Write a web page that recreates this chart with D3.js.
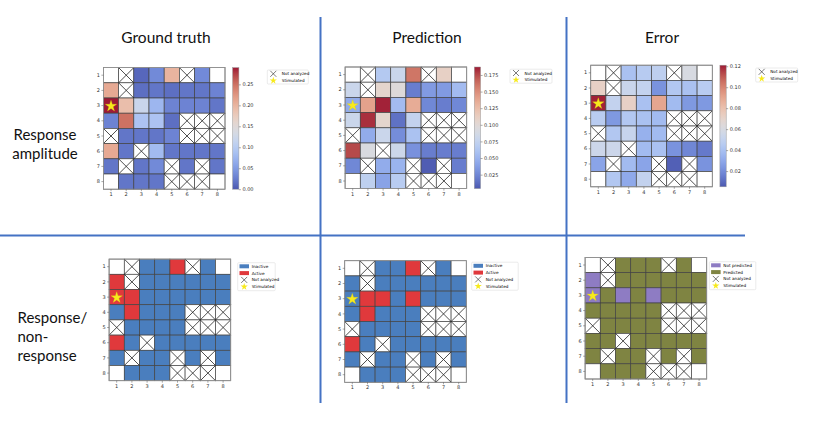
<!DOCTYPE html>
<html>
<head>
<meta charset="utf-8">
<script src="https://cdn.jsdelivr.net/npm/d3@7"></script>
<style>
  body { margin: 0; background: #fff; }
  text { font-family: "DejaVu Sans", sans-serif; }
  .big { font-family: Lato, "Open Sans", sans-serif; fill: #111; }
</style>
</head>
<body>
<script>
// electrode grid, rows / columns
var rowIds = [1, 2, 3, 4, 5, 6, 7, 8];
var colIds = [1, 2, 3, 4, 5, 6, 7, 8];

// [row, col] cells
var notAnalyzed = [[1, 2], [1, 6], [2, 2], [4, 6], [4, 7], [4, 8], [5, 1], [5, 6], [5, 7], [5, 8],
  [6, 3], [7, 2], [7, 5], [7, 7], [8, 5], [8, 6], [8, 7]];
var emptyCells = [[1, 1], [1, 8], [8, 1], [8, 8]];
var stimulated = [3, 1];

// response amplitude (null = no value)
var groundTruth = [
  [null, null, 0.01, 0.035, 0.20, null, 0.035, null],
  [0.21, null, 0.015, 0.02, 0.015, 0.02, 0.02, 0.03],
  [0.29, 0.19, 0.12, 0.075, 0.03, 0.03, 0.03, 0.02],
  [0.03, 0.25, 0.09, 0.09, 0.015, null, null, null],
  [null, 0.02, 0.02, 0.02, 0.03, null, null, null],
  [0.21, 0.02, null, 0.08, 0.02, 0.02, 0.02, 0.02],
  [0.02, null, 0.02, 0.035, null, 0.02, null, 0.02],
  [null, 0.02, 0.02, 0.02, null, null, null, null]
];
var prediction = [
  [null, null, 0.065, 0.08, 0.16, null, 0.11, null],
  [0.08, null, 0.105, 0.097, 0.02, 0.035, 0.035, 0.055],
  [0.045, 0.14, 0.185, 0.055, 0.135, 0.025, 0.02, 0.025],
  [0.08, 0.182, 0.105, 0.015, 0.075, null, null, null],
  [null, 0.045, 0.08, 0.028, 0.06, null, null, null],
  [0.175, 0.092, null, 0.082, 0.03, 0.02, 0.02, 0.02],
  [0.025, null, 0.045, 0.05, null, 0.006, null, 0.02],
  [null, 0.072, 0.04, 0.068, null, null, null, null]
];
var errorVals = [
  [null, null, 0.04, 0.045, 0.048, null, 0.06, null],
  [0.072, null, 0.053, 0.05, 0.022, 0.043, 0.04, 0.046],
  [0.12, 0.05, 0.072, 0.04, 0.09, 0.037, 0.024, 0.024],
  [0.046, 0.024, 0.043, 0.04, 0.037, null, null, null],
  [null, 0.043, 0.052, 0.033, 0.037, null, null, null],
  [0.054, 0.054, null, 0.037, 0.04, 0.022, 0.018, 0.014],
  [0.028, null, 0.037, 0.028, null, 0.007, null, 0.022],
  [null, 0.043, 0.03, 0.05, null, null, null, null]
];

// colorbar ranges and ticks
var gtRange = [0, 0.29];
var predRange = [0.004, 0.187];
var errRange = [0.005, 0.121];
var gtTicks = [0, 0.05, 0.10, 0.15, 0.20, 0.25];
var predTicks = [0.025, 0.05, 0.075, 0.10, 0.125, 0.15, 0.175];
var errTicks = [0.02, 0.04, 0.06, 0.08, 0.10, 0.12];

// response / non-response
var activeTruth = [[1, 5], [2, 1], [3, 1], [3, 2], [4, 2], [6, 1]];
var activePred = [[1, 5], [3, 2], [3, 3], [3, 5], [4, 2], [6, 1]];
var notPredicted = [[2, 1], [3, 1], [3, 3], [3, 5]];

var panelTitles = ['Ground truth', 'Prediction', 'Error'];
var rowLabels = [['Response', 'amplitude'], ['Response/', 'non-', 'response']];

// coolwarm, toned down a little to match the print
var coolwarm = ['#3b4cc0', '#5673e0', '#6f92f3', '#8caffe', '#aac7fd', '#c5d6f2', '#dddcdc',
  '#efcfbf', '#f6b89c', '#f49a7b', '#e7745b', '#d04a3e', '#b40426'].map(function(c) {
  var h = d3.hsl(c); h.s *= 0.75; return h.formatHex();
});
var cInactive = '#4a7ebe', cActive = '#e0393c', cNotPred = '#8e7cc3', cPred = '#7f8442';

var cell = 15.2;
var key = function(rc) { return rc[0] + '-' + rc[1]; };
var naSet = new Set(notAnalyzed.map(key));
var emptySet = new Set(emptyCells.map(key));

var svg = d3.select('body').append('svg').attr('width', 814).attr('height', 431);

// separators
var sep = svg.append('g').attr('stroke', '#4472c4').attr('stroke-width', 2);
sep.append('line').attr('x1', 320.5).attr('x2', 320.5).attr('y1', 17).attr('y2', 403);
sep.append('line').attr('x1', 566.5).attr('x2', 566.5).attr('y1', 17).attr('y2', 403);
sep.append('line').attr('x1', 0).attr('x2', 745).attr('y1', 235.5).attr('y2', 235.5);

// titles and row labels
[166, 427, 662].forEach(function(cx, i) {
  svg.append('text').attr('class', 'big').attr('x', cx).attr('y', 43)
    .attr('text-anchor', 'middle').attr('font-size', 15.5).text(panelTitles[i]);
});
rowLabels[0].forEach(function(t, i) {
  svg.append('text').attr('class', 'big').attr('x', 45).attr('y', 140 + i * 18.5)
    .attr('text-anchor', 'middle').attr('font-size', 15).text(t);
});
rowLabels[1].forEach(function(t, i) {
  svg.append('text').attr('class', 'big').attr('x', 17.5).attr('y', 323 + i * 19)
    .attr('font-size', 15).text(t);
});

function drawGrid(left, top, fillFor) {
  var x = d3.scaleBand().domain(colIds).range([left, left + cell * 8]);
  var y = d3.scaleBand().domain(rowIds).range([top, top + cell * 8]);
  var bw = x.bandwidth();
  var g = svg.append('g');
  var cells = d3.cross(rowIds, colIds).map(function(rc) {
    return { r: rc[0], c: rc[1], na: naSet.has(key(rc)), empty: emptySet.has(key(rc)) };
  });

  g.selectAll('rect.cell').data(cells).join('rect')
    .attr('x', function(d) { return x(d.c); })
    .attr('y', function(d) { return y(d.r); })
    .attr('width', bw).attr('height', bw)
    .attr('fill', function(d) { return d.na || d.empty ? '#fff' : fillFor(d.r, d.c); })
    .attr('stroke', '#444').attr('stroke-width', 0.7);

  g.selectAll('path.na').data(cells.filter(function(d) { return d.na; })).join('path')
    .attr('d', function(d) {
      var x0 = x(d.c), y0 = y(d.r);
      return 'M' + x0 + ',' + y0 + 'L' + (x0 + bw) + ',' + (y0 + bw) +
        'M' + (x0 + bw) + ',' + y0 + 'L' + x0 + ',' + (y0 + bw);
    })
    .attr('stroke', '#222').attr('stroke-width', 0.8).attr('fill', 'none');

  g.append('path')
    .attr('d', d3.symbol(d3.symbolStar, 40)())
    .attr('transform', 'translate(' + (x(stimulated[1]) + bw / 2) + ',' + (y(stimulated[0]) + bw / 2 + 0.5) + ')')
    .attr('fill', '#f7ea1c').attr('stroke', '#d8cc10').attr('stroke-width', 0.3);

  g.append('rect').attr('x', left).attr('y', top).attr('width', bw * 8).attr('height', bw * 8)
    .attr('fill', 'none').attr('stroke', '#999').attr('stroke-width', 0.8);

  var ax = g.append('g').attr('transform', 'translate(0,' + (top + bw * 8) + ')')
    .call(d3.axisBottom(x).tickSize(2).tickPadding(1.5));
  var ay = g.append('g').attr('transform', 'translate(' + left + ',0)')
    .call(d3.axisLeft(y).tickSize(2).tickPadding(1.5));
  [ax, ay].forEach(function(a) {
    a.select('.domain').remove();
    a.selectAll('text').attr('font-size', 5).attr('fill', '#333');
    a.selectAll('line').attr('stroke', '#555').attr('stroke-width', 0.5);
  });
}

function drawColorbar(x0, top, range, ticks, fmt, color) {
  var h = cell * 8, w = 6.3;
  var y = d3.scaleLinear().domain(range).range([top + h, top]);
  var id = 'grad' + Math.round(x0);
  var grad = svg.append('defs').append('linearGradient').attr('id', id)
    .attr('x1', 0).attr('y1', 1).attr('x2', 0).attr('y2', 0);
  d3.range(0, 1.0001, 0.05).forEach(function(t) {
    grad.append('stop').attr('offset', t)
      .attr('stop-color', color(range[0] + t * (range[1] - range[0])));
  });
  svg.append('rect').attr('x', x0).attr('y', top).attr('width', w).attr('height', h)
    .attr('fill', 'url(#' + id + ')').attr('stroke', '#999').attr('stroke-width', 0.5);
  var ax = svg.append('g').attr('transform', 'translate(' + (x0 + w) + ',0)')
    .call(d3.axisRight(y).tickValues(ticks).tickFormat(d3.format(fmt)).tickSize(2).tickPadding(1.5));
  ax.select('.domain').remove();
  ax.selectAll('text').attr('font-size', 5).attr('fill', '#333');
  ax.selectAll('line').attr('stroke', '#555').attr('stroke-width', 0.5);
}

function xMarker(g, cx, cy, r) {
  g.append('path')
    .attr('d', 'M' + (cx - r) + ',' + (cy - r) + 'L' + (cx + r) + ',' + (cy + r) +
      'M' + (cx + r) + ',' + (cy - r) + 'L' + (cx - r) + ',' + (cy + r))
    .attr('stroke', '#222').attr('stroke-width', 0.6);
}
function starMarker(g, cx, cy) {
  g.append('path').attr('d', d3.symbol(d3.symbolStar, 16)())
    .attr('transform', 'translate(' + cx + ',' + cy + ')').attr('fill', '#f7ea1c');
}

function legendSmall(x0, y0, w) {
  var g = svg.append('g');
  g.append('rect').attr('x', x0).attr('y', y0).attr('width', w).attr('height', 14)
    .attr('rx', 1).attr('fill', '#fff').attr('stroke', '#ddd').attr('stroke-width', 0.6);
  xMarker(g, x0 + 6, y0 + 3.8, 3);
  starMarker(g, x0 + 6, y0 + 10.6);
  g.append('text').attr('x', x0 + 14.5).attr('y', y0 + 5.3).attr('font-size', 4.2).text('Not analyzed');
  g.append('text').attr('x', x0 + 14.5).attr('y', y0 + 11.6).attr('font-size', 4.2).text('Stimulated');
}

function legendBig(x0, y0, w, items) {
  var g = svg.append('g');
  g.append('rect').attr('x', x0).attr('y', y0).attr('width', w).attr('height', 28)
    .attr('rx', 1).attr('fill', '#fff').attr('stroke', '#ddd').attr('stroke-width', 0.6);
  items.forEach(function(it, i) {
    var cy = y0 + 3.6 + i * 6.8;
    g.append('rect').attr('x', x0 + 1.8).attr('y', cy - 2).attr('width', 9.5).attr('height', 4).attr('fill', it.color);
    g.append('text').attr('x', x0 + 14).attr('y', cy + 1.5).attr('font-size', 4.2).text(it.label);
  });
  var cyX = y0 + 3.6 + 2 * 6.8, cyS = y0 + 3.6 + 3 * 6.8;
  xMarker(g, x0 + 6.5, cyX, 3);
  starMarker(g, x0 + 6.5, cyS);
  g.append('text').attr('x', x0 + 14).attr('y', cyX + 1.5).attr('font-size', 4.2).text('Not analyzed');
  g.append('text').attr('x', x0 + 14).attr('y', cyS + 1.5).attr('font-size', 4.2).text('Stimulated');
}

// top row: amplitudes
var amp = [
  { left: 103.4, top: 67.6, vals: groundTruth, range: gtRange, ticks: gtTicks, fmt: '.2f', leg: [267.3, 70, 41] },
  { left: 345.1, top: 67.0, vals: prediction, range: predRange, ticks: predTicks, fmt: '.3f', leg: [510, 69.2, 42] },
  { left: 590.7, top: 65.2, vals: errorVals, range: errRange, ticks: errTicks, fmt: '.2f', leg: [755.7, 68, 42] }
];
amp.forEach(function(p) {
  var color = d3.scaleSequential(d3.interpolateRgbBasis(coolwarm)).domain(p.range);
  drawGrid(p.left, p.top, function(r, c) { return color(p.vals[r - 1][c - 1]); });
  drawColorbar(p.left + cell * 8 + 7.6, p.top, p.range, p.ticks, p.fmt, color);
  legendSmall(p.leg[0], p.leg[1], p.leg[2]);
});

// bottom row: response / non-response
var actT = new Set(activeTruth.map(key));
var actP = new Set(activePred.map(key));
var notP = new Set(notPredicted.map(key));
drawGrid(109.1, 259.1, function(r, c) { return actT.has(key([r, c])) ? cActive : cInactive; });
drawGrid(344.7, 260.7, function(r, c) { return actP.has(key([r, c])) ? cActive : cInactive; });
drawGrid(585.1, 257.4, function(r, c) { return notP.has(key([r, c])) ? cNotPred : cPred; });

legendBig(237.7, 262.7, 37.5, [{ label: 'Inactive', color: cInactive }, { label: 'Active', color: cActive }]);
legendBig(471.7, 262.2, 46.5, [{ label: 'Inactive', color: cInactive }, { label: 'Active', color: cActive }]);
legendBig(709.3, 261.7, 46.5, [{ label: 'Not predicted', color: cNotPred }, { label: 'Predicted', color: cPred }]);
</script>
</body>
</html>
